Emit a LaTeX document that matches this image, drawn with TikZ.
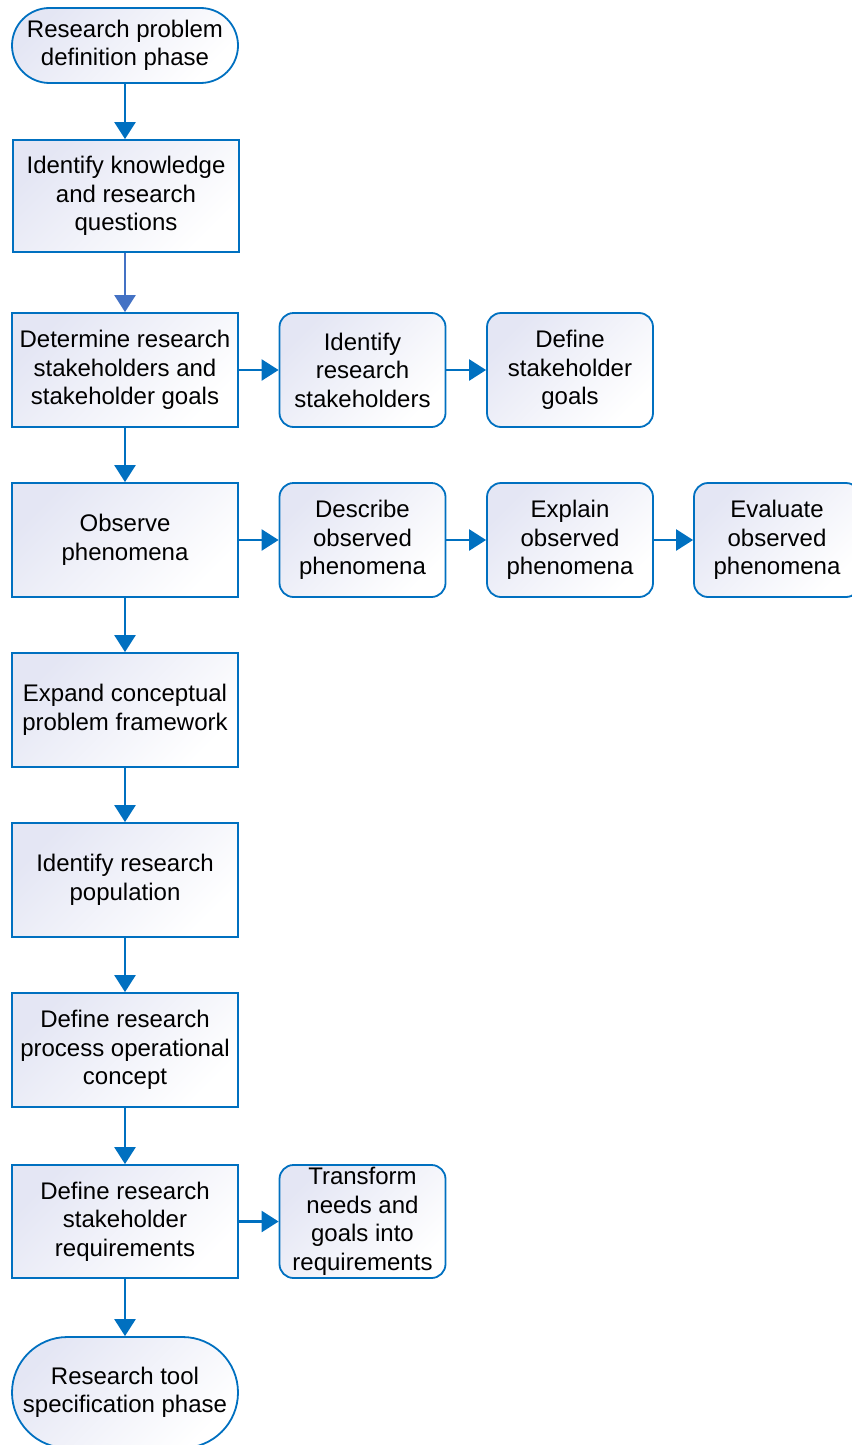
\documentclass[tikz,border=0pt]{standalone}
\usepackage{fontspec}
\setmainfont{Liberation Sans}
\usetikzlibrary{arrows.meta}
\definecolor{bl}{HTML}{0070C0}
\definecolor{bl2}{HTML}{4472C4}
\definecolor{lav}{HTML}{E4E6F4}
\tikzset{
  base/.style={draw=bl, line width=1.8pt, shade, top color=lav, bottom color=white, shading angle=45,
    align=center, inner sep=0pt, font=\fontsize{24}{28.5}\selectfont},
  mainbox/.style={base, minimum width=226pt, minimum height=114pt},
  sidebox/.style={base, rounded corners=14pt, minimum width=166pt, minimum height=114pt},
  term/.style={base, minimum width=226pt},
  arr/.style={draw=bl, line width=2.5pt, -{Triangle[length=17pt,width=21pt]}},
}
\begin{document}
\begin{tikzpicture}[x=1pt,y=-1pt]
\useasboundingbox (0,0) rectangle (851,1445);
\node[term, minimum height=75pt, rounded corners=37.5pt] (start) at (125,45.5) {Research problem\\definition phase};
\node[mainbox, minimum height=112pt] (b1) at (126,196) {Identify knowledge\\and research\\questions};
\node[mainbox] (b2) at (125,370) {Determine research\\stakeholders and\\stakeholder goals};
\node[sidebox] (s21) at (362.5,370) {Identify\\research\\stakeholders};
\node[sidebox] (s22) at (570,370) {Define\\stakeholder\\goals};
\node[mainbox] (b3) at (125,540) {Observe\\phenomena};
\node[sidebox] (s31) at (362.5,540) {Describe\\observed\\phenomena};
\node[sidebox] (s32) at (570,540) {Explain\\observed\\phenomena};
\node[sidebox] (s33) at (777,540) {Evaluate\\observed\\phenomena};
\node[mainbox] (b4) at (125,710) {Expand conceptual\\problem framework};
\node[mainbox] (b5) at (125,880) {Identify research\\population};
\node[mainbox] (b6) at (125,1050) {Define research\\process operational\\concept};
\node[mainbox, minimum height=113pt] (b7) at (125,1221.5) {Define research\\stakeholder\\requirements};
\node[sidebox, minimum height=113pt] (s71) at (362.5,1221.5) {Transform\\needs and\\goals into\\requirements};
\node[term, minimum height=111pt, rounded corners=55.5pt] (end) at (125,1392.5) {Research tool\\specification phase};
\draw[arr] (start) -- (start.south |- b1.north);
\draw[arr, draw=bl2] (b1.south -| b2.north) -- (b2);
\draw[arr] (b2) -- (s21);
\draw[arr] (s21) -- (s22);
\draw[arr] (b2) -- (b3);
\draw[arr] (b3) -- (s31);
\draw[arr] (s31) -- (s32);
\draw[arr] (s32) -- (s33);
\draw[arr] (b3) -- (b4);
\draw[arr] (b4) -- (b5);
\draw[arr] (b5) -- (b6);
\draw[arr] (b6) -- (b7);
\draw[arr] (b7) -- (s71);
\draw[arr] (b7) -- (end);
\end{tikzpicture}
\end{document}
